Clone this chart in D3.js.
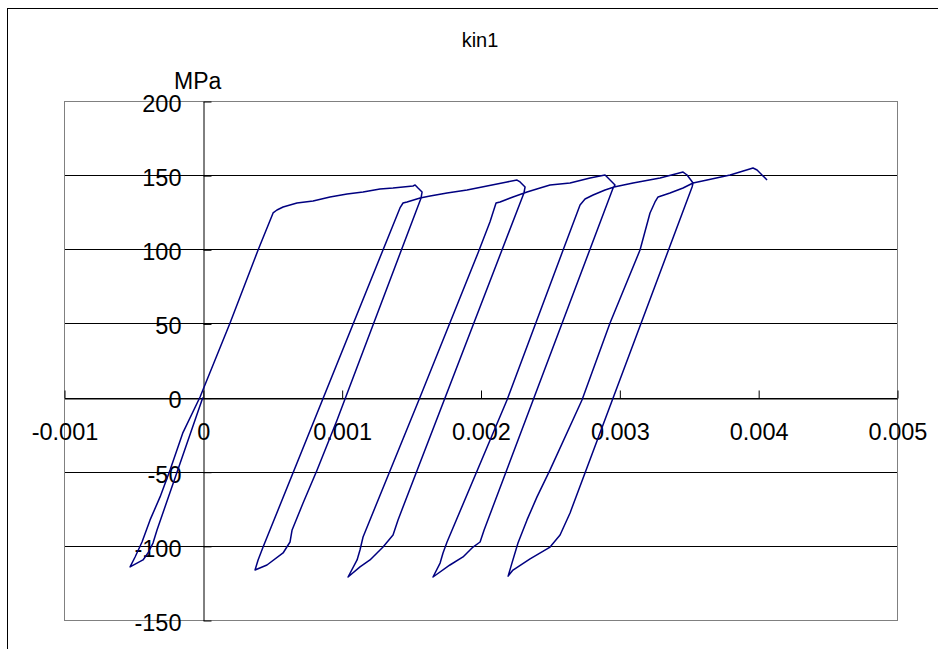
<!DOCTYPE html>
<html>
<head>
<meta charset="utf-8">
<script src="https://cdn.jsdelivr.net/npm/d3@7"></script>
<style>
  body { margin: 0; background: #fff; }
  svg text { font-family: Arial, "Liberation Sans", sans-serif; fill: #000; }
</style>
</head>
<body>
<div id="chart"></div>
<script>
const width = 938;
const height = 649;

const title = 'kin1';
const yUnit = 'MPa';

// axis ticks
const xTicks = [-0.001, 0, 0.001, 0.002, 0.003, 0.004, 0.005];
const xTickLabels = ['-0.001', '0', '0.001', '0.002', '0.003', '0.004', '0.005'];
const yTicks = [-150, -100, -50, 0, 50, 100, 150, 200];
const yTickLabels = ['-150', '-100', '-50', '0', '50', '100', '150', '200'];

// [strain, stress MPa], in test order
// start, compression to the first tip, reload and first hardening branch
const firstLoading = [
  [0, 0], [-0.000330, -89.3], [-0.000359, -98.1], [-0.000395, -104.8],
  [-0.000431, -109.5], [-0.000524, -114.2],
  [-0.000488, -107.5], [-0.000438, -97.4], [-0.000380, -82.5], [-0.000308, -67.0],
  [-0.000236, -48.8], [-0.000145, -24.0], [-0.000020, 0.4], [0.000196, 50.3],
  [0.000398, 99.5], [0.000506, 124.5], [0.000534, 126.5], [0.000578, 128.5],
  [0.000678, 131.2], [0.000794, 132.6], [0.000916, 135.3], [0.001039, 137.3],
  [0.001154, 138.6], [0.001276, 140.7], [0.001370, 141.3], [0.001514, 142.7],
  [0.001529, 143.4], [0.001550, 141.3], [0.001579, 138.6], [0.001572, 134.6]
];
// each cycle: unload to the compression tip, reload, harden to the next peak
const cycle1 = [
  [0.000967, -15.1], [0.000823, -48.8], [0.000722, -71.1], [0.000643, -89.3],
  [0.000628, -97.4], [0.000578, -104.8], [0.000462, -112.9], [0.000376, -116.3],
  [0.000398, -109.5], [0.000434, -100.8], [0.001420, 127.9], [0.001442, 131.2],
  [0.001471, 131.9], [0.001565, 134.6], [0.001637, 135.9], [0.001759, 138.0],
  [0.001903, 140.0], [0.002047, 142.7], [0.002191, 145.4], [0.002263, 146.7],
  [0.002285, 145.4], [0.002321, 142.0], [0.002313, 138.0]
];
const cycle2 = [
  [0.001406, -82.5], [0.001370, -92.7], [0.001298, -100.8], [0.001204, -109.5],
  [0.001132, -114.2], [0.001046, -121.0],
  [0.001111, -109.5], [0.001132, -102.8], [0.001154, -94.0], [0.001565, 0.4],
  [0.001982, 97.5], [0.002068, 118.4], [0.002112, 131.2],
  [0.002141, 131.9], [0.002234, 135.3], [0.002335, 138.6], [0.002429, 141.3],
  [0.002501, 143.4], [0.002645, 144.7], [0.002789, 148.1], [0.002897, 150.1],
  [0.002919, 148.1], [0.002969, 143.4], [0.002955, 141.3]
];
const cycle3 = [
  [0.002026, -89.3], [0.001997, -97.4], [0.001946, -100.8], [0.001874, -107.5],
  [0.001780, -112.9], [0.001658, -121.0],
  [0.001709, -111.6], [0.001730, -104.8], [0.001759, -97.4], [0.002191, -1.6],
  [0.002595, 99.5], [0.002717, 129.9], [0.002753, 133.9],
  [0.002811, 136.6], [0.002897, 140.0], [0.002962, 142.0], [0.003099, 144.7],
  [0.003293, 148.1], [0.003459, 152.1], [0.003488, 150.1], [0.003531, 144.7],
  [0.003524, 142.0]
];
const cycle4 = [
  [0.002645, -77.8], [0.002573, -92.7], [0.002501, -100.8], [0.002357, -108.8],
  [0.002234, -116.3], [0.002199, -120.4],
  [0.002227, -111.5], [0.002270, -98.1], [0.002335, -82.5], [0.002407, -67.0],
  [0.002501, -48.8], [0.002731, -1.6], [0.002933, 50.3], [0.003149, 99.5],
  [0.003221, 124.5], [0.003257, 131.9], [0.003279, 135.3],
  [0.003365, 138.0], [0.003459, 141.3], [0.003531, 144.7], [0.003632, 146.7],
  [0.003798, 150.1], [0.003963, 154.8], [0.003992, 153.5], [0.004064, 146.7]
];

const curve = [].concat(firstLoading, cycle1, cycle2, cycle3, cycle4);

const plot = { left: 64, right: 897, top: 101, bottom: 620 };

const x = d3.scaleLinear().domain([-0.001, 0.005]).range([plot.left, plot.right]);
const y = d3.scaleLinear().domain([-150, 200]).range([plot.bottom, plot.top]);

const svg = d3.select('#chart')
  .append('svg')
    .attr('width', width)
    .attr('height', height);

svg.append('rect')
  .attr('width', width).attr('height', height)
  .attr('fill', '#fff');

// chart frame (runs off the right and bottom edge)
svg.append('rect')
  .attr('x', 7.5).attr('y', 8.5)
  .attr('width', 1000).attr('height', 700)
  .attr('fill', 'none')
  .attr('stroke', '#000');

svg.append('text')
  .attr('x', 480)
  .attr('y', 47)
  .attr('text-anchor', 'middle')
  .style('font-size', '20px')
  .text(title);

svg.append('text')
  .attr('x', 174)
  .attr('y', 89)
  .style('font-size', '23px')
  .text(yUnit);

// gridlines
svg.append('g')
  .selectAll('line')
  .data(yTicks.filter(d => d > -150 && d < 200))
  .join('line')
    .attr('x1', plot.left).attr('x2', plot.right)
    .attr('y1', d => Math.round(y(d)) + 0.5)
    .attr('y2', d => Math.round(y(d)) + 0.5)
    .attr('stroke', '#000')
    .attr('stroke-width', 1);

// plot area border
svg.append('rect')
  .attr('x', plot.left + 0.5).attr('y', plot.top + 0.5)
  .attr('width', plot.right - plot.left)
  .attr('height', plot.bottom - plot.top)
  .attr('fill', 'none')
  .attr('stroke', '#808080');

// x axis, crossing at stress 0
const xAxis = d3.axisBottom(x)
  .tickValues(xTicks)
  .tickFormat((d, i) => xTickLabels[i])
  .tickSizeInner(-8)
  .tickSizeOuter(0);

svg.append('g')
  .attr('transform', `translate(0.5,${Math.round(y(0)) + 0.5})`)
  .call(xAxis)
  .call(g => g.selectAll('path, line').attr('stroke', '#000'))
  .call(g => g.selectAll('text')
    .attr('y', 41)
    .attr('dy', null)
    .style('font-size', '23.5px')
    .attr('font-family', null));

// y axis, crossing at strain 0
const yAxis = d3.axisLeft(y)
  .tickValues(yTicks)
  .tickFormat((d, i) => yTickLabels[i])
  .tickSizeInner(-8)
  .tickSizeOuter(0);

svg.append('g')
  .attr('transform', `translate(${Math.round(x(0)) + 0.5},0.5)`)
  .call(yAxis)
  .call(g => g.selectAll('path, line').attr('stroke', '#000'))
  .call(g => g.selectAll('text')
    .attr('x', -22)
    .attr('dy', '0.42em')
    .style('font-size', '23.5px')
    .attr('font-family', null));

// the hysteresis curve
const line = d3.line()
  .x(d => x(d[0]))
  .y(d => y(d[1]));

svg.append('path')
  .datum(curve)
  .attr('d', line)
  .attr('fill', 'none')
  .attr('stroke', '#000080')
  .attr('stroke-width', 1.5)
  .attr('stroke-linejoin', 'round');
</script>
</body>
</html>
